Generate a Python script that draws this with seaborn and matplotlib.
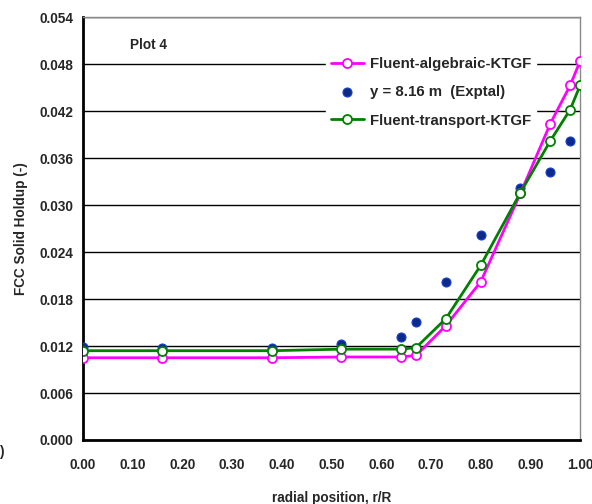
import matplotlib
matplotlib.use("Agg")
import matplotlib.pyplot as plt
import seaborn as sns
import numpy as np
import pandas as pd

r_sim = [0.00, 0.16, 0.38, 0.52, 0.64, 0.67, 0.73, 0.80, 0.88, 0.94, 0.98, 1.00]
alg_ktgf = [0.0105, 0.0105, 0.0105, 0.0106, 0.0106, 0.0108, 0.0146, 0.0202, 0.0315, 0.0404, 0.0453, 0.0484]
trans_ktgf = [0.0114, 0.0114, 0.0114, 0.0116, 0.0116, 0.0118, 0.0155, 0.0223, 0.0316, 0.0382, 0.0422, 0.0453]
r_exp = [0.00, 0.16, 0.38, 0.52, 0.64, 0.67, 0.73, 0.80, 0.88, 0.94, 0.98]
exp_y = [0.0119, 0.0118, 0.0117, 0.0123, 0.0132, 0.0151, 0.0202, 0.0262, 0.0322, 0.0342, 0.0382]

x_ticks = [0.0, 0.1, 0.2, 0.3, 0.4, 0.5, 0.6, 0.7, 0.8, 0.9, 1.0]
y_ticks = [0.000, 0.006, 0.012, 0.018, 0.024, 0.030, 0.036, 0.042, 0.048, 0.054]

sns.set_style("white")
plt.rcParams['font.family'] = ['Liberation Sans', 'DejaVu Sans']
plt.rcParams['font.weight'] = 'bold'

fig = plt.figure(figsize=(5.92, 5.04), dpi=100)
ax = fig.add_axes([0.140, 0.127, 0.840, 0.839])

pink = '#FF00FF'
green = '#008000'
navy = '#0b2a8a'

sns.scatterplot(x=r_exp, y=exp_y, ax=ax, color=navy, edgecolor='#1b3fd0', linewidth=0.8,
                s=42, zorder=3, label='y = 8.16 m  (Exptal)')
sns.lineplot(x=r_sim, y=alg_ktgf, ax=ax, color=pink, lw=2, marker='o', markersize=6.5,
             markerfacecolor='white', markeredgecolor=pink, markeredgewidth=1.3,
             zorder=4, label='Fluent-algebraic-KTGF')
sns.lineplot(x=r_sim, y=trans_ktgf, ax=ax, color=green, lw=2, marker='o', markersize=6.5,
             markerfacecolor='white', markeredgecolor=green, markeredgewidth=1.3,
             zorder=5, label='Fluent-transport-KTGF')

ax.set_xlim(0, 1.0)
ax.set_ylim(0, 0.054)
ax.set_xticks(x_ticks)
ax.set_yticks(y_ticks)
ax.set_xticklabels([f"{v:.2f}" for v in x_ticks], fontsize=9.8, fontweight='bold')
ax.set_yticklabels([f"{v:.3f}" for v in y_ticks], fontsize=9.8, fontweight='bold')
ax.tick_params(axis='both', direction='out', length=4, width=1.5, color='black', pad=3)
ax.tick_params(axis='x', pad=9)

ax.yaxis.grid(True, color='black', lw=1.0)
ax.set_axisbelow(True)

for s in ['left', 'bottom']:
    ax.spines[s].set_color('black')
    ax.spines[s].set_linewidth(2)
for s in ['top', 'right']:
    ax.spines[s].set_color('#888888')
    ax.spines[s].set_linewidth(1)

ax.set_xlabel('radial position, r/R', fontsize=9.8, fontweight='bold', labelpad=14)
ax.set_ylabel('FCC Solid Holdup (-)', fontsize=9.8, fontweight='bold', labelpad=8)

ax.text(0.095, 0.925, 'Plot 4', transform=ax.transAxes, fontsize=9.8, fontweight='bold')

handles, labels = ax.get_legend_handles_labels()
order = [labels.index('Fluent-algebraic-KTGF'), labels.index('y = 8.16 m  (Exptal)'),
         labels.index('Fluent-transport-KTGF')]
leg = ax.legend([handles[i] for i in order], [labels[i] for i in order],
                loc='upper left', bbox_to_anchor=(0.474, 0.934), frameon=True,
                fancybox=False, framealpha=1, edgecolor='white', facecolor='white',
                prop={'size': 10.8, 'weight': 'bold'}, handlelength=2.2,
                handletextpad=0.45, labelspacing=0.95, borderpad=0.3)
leg.set_zorder(6)

fig.text(0.0, 0.095, ')', fontsize=9.8, fontweight='bold', ha='left')

fig.savefig('out.png', dpi=100)
